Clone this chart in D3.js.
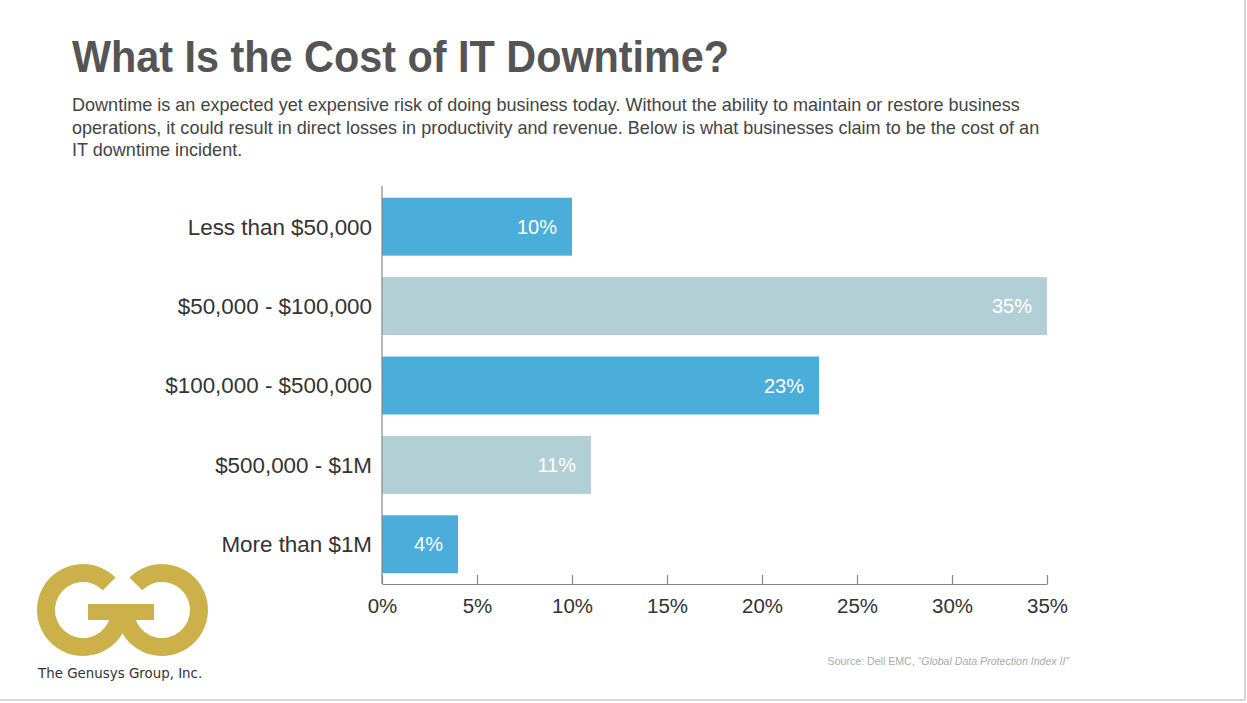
<!DOCTYPE html>
<html>
<head>
<meta charset="utf-8">
<script src="https://cdn.jsdelivr.net/npm/d3@7"></script>
<style>
  html, body { margin: 0; padding: 0; background: #fff; }
  svg { display: block; }
</style>
</head>
<body>
<div id="chart"></div>
<script>
// Chart data
var categories = ["Less than $50,000", "$50,000 - $100,000", "$100,000 - $500,000", "$500,000 - $1M", "More than $1M"];
var values = [10, 35, 23, 11, 4];
var barColors = ["#4badd9", "#b2cfd6", "#4badd9", "#b2cfd6", "#4badd9"];
var xTicks = [0, 5, 10, 15, 20, 25, 30, 35];

var titleText = "What Is the Cost of IT Downtime?";
var subtitleLines = [
    "Downtime is an expected yet expensive risk of doing business today. Without the ability to maintain or restore business",
    "operations, it could result in direct losses in productivity and revenue. Below is what businesses claim to be the cost of an",
    "IT downtime incident."
];

var width = 1247;
var height = 703;

var svg = d3.select("#chart")
    .append("svg")
    .attr("width", width)
    .attr("height", height);

// Slide border (right and bottom)
svg.append("line")
    .attr("x1", 1245).attr("x2", 1245).attr("y1", 0).attr("y2", 700)
    .attr("stroke", "#c8c8c8").attr("stroke-width", 1.5);
svg.append("line")
    .attr("x1", 0).attr("x2", 1245).attr("y1", 700).attr("y2", 700)
    .attr("stroke", "#c8c8c8").attr("stroke-width", 1.5);

// narrow look: squeeze a text element horizontally by a factor
function squeeze(sel, factor) {
    sel.each(function() {
        var w = this.getComputedTextLength();
        d3.select(this)
            .attr("textLength", w * factor)
            .attr("lengthAdjust", "spacingAndGlyphs");
    });
}

// Title and intro text
svg.append("text")
    .attr("x", 72)
    .attr("y", 72)
    .text(titleText)
    .style("font-family", "'Liberation Sans', Arial, sans-serif")
    .style("font-weight", "bold")
    .style("font-size", "44px")
    .style("fill", "#555")
    .call(squeeze, 0.94);

svg.selectAll("text.sub")
    .data(subtitleLines)
    .enter()
    .append("text")
    .attr("class", "sub")
    .attr("x", 72)
    .attr("y", function(d, i) { return 111 + i * 22.5; })
    .text(function(d) { return d; })
    .style("font-family", "'Liberation Sans', Arial, sans-serif")
    .style("font-size", "19px")
    .style("fill", "#444")
    .call(squeeze, 0.95);

// Scales
var x = d3.scaleLinear()
    .domain([0, 35])
    .range([382, 1047]);

var y = d3.scaleBand()
    .domain(categories)
    .range([187, 584])
    .paddingInner(0.27)
    .paddingOuter(0.135);

// Bars
svg.selectAll("rect.bar")
    .data(values)
    .enter()
    .append("rect")
    .attr("class", "bar")
    .attr("x", x(0))
    .attr("y", function(d, i) { return y(categories[i]); })
    .attr("width", function(d) { return x(d) - x(0); })
    .attr("height", y.bandwidth())
    .style("fill", function(d, i) { return barColors[i]; });

// Value labels inside bars
svg.selectAll("text.val")
    .data(values)
    .enter()
    .append("text")
    .attr("class", "val")
    .attr("x", function(d) { return x(d) - 15; })
    .attr("y", function(d, i) { return y(categories[i]) + y.bandwidth() / 2; })
    .attr("dy", "0.35em")
    .attr("text-anchor", "end")
    .text(function(d) { return d + "%"; })
    .style("font-family", "'Liberation Sans', Arial, sans-serif")
    .style("font-size", "20px")
    .style("fill", "#fff");

// Category labels
svg.selectAll("text.cat")
    .data(categories)
    .enter()
    .append("text")
    .attr("class", "cat")
    .attr("x", 372)
    .attr("y", function(d) { return y(d) + y.bandwidth() / 2; })
    .attr("dy", "0.35em")
    .attr("text-anchor", "end")
    .text(function(d) { return d; })
    .style("font-family", "'Liberation Sans', Arial, sans-serif")
    .style("font-size", "22.4px")
    .style("fill", "#333");

// Y axis line
svg.append("line")
    .attr("x1", x(0)).attr("x2", x(0))
    .attr("y1", 186).attr("y2", 584)
    .attr("stroke", "#888").attr("stroke-width", 1.2);

// X axis with upward ticks
var xAxis = d3.axisBottom(x)
    .tickValues(xTicks)
    .tickSize(0)
    .tickPadding(14)
    .tickFormat(function(d) { return d + "%"; });

var gx = svg.append("g")
    .attr("transform", "translate(0,584)")
    .call(xAxis);

gx.select(".domain").attr("stroke", "#888").attr("stroke-width", 1.2);
gx.selectAll(".tick line")
    .attr("y1", 0).attr("y2", -9)
    .attr("stroke", "#888").attr("stroke-width", 1.2);
gx.selectAll(".tick text")
    .style("font-family", "'Liberation Sans', Arial, sans-serif")
    .style("font-size", "20.5px")
    .style("fill", "#333");

// Source note
var src = svg.append("text")
    .attr("x", 1069)
    .attr("y", 665)
    .attr("text-anchor", "end")
    .style("font-family", "'Liberation Sans', Arial, sans-serif")
    .style("font-size", "10.6px")
    .style("fill", "#aaa");
src.append("tspan").text("Source: Dell EMC, ");
src.append("tspan").style("font-style", "italic").text("\u201cGlobal Data Protection Index II\u201d");

// Logo: two interlocking G rings
var gold = "#ccb14b";
var ring = d3.arc().innerRadius(28).outerRadius(46);
var logo = svg.append("g");
logo.append("path")
    .attr("transform", "translate(83,610)")
    .attr("d", ring({ startAngle: Math.PI / 2, endAngle: 2 * Math.PI + Math.PI / 4 }))
    .style("fill", gold);
logo.append("path")
    .attr("transform", "translate(162,610)")
    .attr("d", ring({ startAngle: -Math.PI / 4, endAngle: 1.5 * Math.PI }))
    .style("fill", gold);
logo.append("rect")
    .attr("x", 88).attr("y", 604)
    .attr("width", 66).attr("height", 16)
    .style("fill", gold);

svg.append("text")
    .attr("x", 38)
    .attr("y", 678)
    .text("The Genusys Group, Inc.")
    .style("font-family", "'DejaVu Sans', sans-serif")
    .style("font-size", "13.4px")
    .style("fill", "#333");
</script>
</body>
</html>
